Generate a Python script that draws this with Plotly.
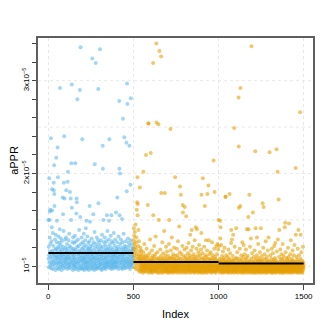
import plotly.graph_objects as go

# aPPR values in units of 1e-7 (i.e. 100 = 1.00x10^-5), index order
appr_group1 = [
150,108,121,99,112,195,104,150,131,159,116,161,101,124,109,238,98,113,127,105,142,183,160,102,117,110,136,97,114,106,122,190,182,103,209,178,165,111,100,129,107,118,96,134,112,104,217,119,109,126,
149,103,115,98,228,110,196,121,106,132,101,113,97,125,108,119,104,140,292,111,99,116,123,105,130,102,114,109,96,127,112,100,118,107,174,121,156,103,113,138,98,190,110,240,105,173,117,101,129,108,
106,120,99,112,131,182,103,115,108,124,97,110,119,191,104,202,113,101,128,107,116,99,135,109,102,122,111,180,98,114,105,173,120,103,150,211,108,296,163,117,100,126,106,113,96,131,110,104,119,101,
112,98,125,107,116,102,133,109,211,100,118,105,127,97,157,113,173,169,104,121,280,108,99,115,129,103,111,96,122,106,114,139,101,117,108,290,98,153,112,336,105,124,100,115,109,131,97,119,106,237,
111,103,126,98,114,107,120,101,135,109,96,117,104,123,110,99,128,106,113,102,141,108,97,149,115,104,121,100,112,132,105,118,98,110,125,103,114,96,119,107,101,127,165,109,148,116,99,122,106,113,
104,119,97,111,130,102,115,108,324,100,123,106,113,98,156,110,126,103,117,96,109,137,210,105,120,101,114,99,319,108,124,103,112,97,131,106,116,100,121,109,98,113,128,291,168,104,118,107,101,125,
110,99,116,334,105,122,102,113,97,128,108,119,103,111,96,134,107,115,100,230,205,121,104,150,112,98,126,109,101,117,106,131,99,114,103,123,108,97,119,110,102,127,105,115,155,100,112,138,104,118,
107,99,121,110,103,129,149,114,237,101,117,106,124,98,112,105,133,109,100,120,155,103,115,97,127,108,111,102,118,106,99,125,113,104,136,110,101,116,107,98,122,112,103,129,105,114,100,158,109,119,
104,117,99,111,126,174,106,115,101,121,108,97,132,110,103,118,278,205,155,113,105,200,124,100,112,107,129,98,116,104,120,109,151,102,114,126,97,111,259,106,118,101,135,108,113,99,239,122,105,116,
103,119,110,98,127,106,114,101,233,121,181,108,297,104,275,116,99,130,111,103,118,107,125,100,113,105,230,122,109,97,115,102,188,128,281,106,117,101,111,104,124,99,113,108,120,103,116,110,105,119,
]

appr_group2 = [
128,119,141,106,133,112,124,99,137,115,121,103,145,109,126,97,118,131,105,161,113,169,101,196,155,167,108,122,96,139,111,104,127,99,116,107,94,185,110,102,120,98,106,113,95,103,117,100,108,96,
104,97,111,101,93,106,99,115,202,102,95,108,100,124,97,104,110,94,101,107,98,112,103,220,96,105,99,119,102,94,109,100,106,97,166,103,111,254,254,98,105,93,101,114,96,107,100,129,95,103,
98,222,106,94,101,109,97,104,117,99,93,106,102,111,96,319,155,100,107,95,103,122,98,110,94,101,105,97,113,100,132,96,104,99,340,255,108,94,102,97,115,103,93,106,100,98,253,109,150,101,
95,104,332,99,107,93,102,118,97,105,100,111,326,179,96,103,94,108,101,126,98,106,93,102,114,97,104,100,109,95,138,103,99,106,179,94,101,112,97,105,99,121,95,103,108,96,100,116,93,104,
98,107,94,101,111,96,103,99,124,150,95,106,100,93,109,97,104,248,101,117,95,102,108,98,94,131,103,99,110,96,105,100,93,113,98,106,101,95,120,103,97,108,94,102,196,99,111,96,104,100,
95,107,101,98,119,93,104,100,112,96,103,127,97,106,94,101,109,99,143,95,104,100,115,186,97,102,93,108,177,98,105,101,96,113,94,103,99,122,106,166,158,97,101,95,110,100,93,104,98,118,
103,164,96,107,100,94,111,99,105,154,97,102,120,93,108,101,96,104,99,114,95,106,100,125,97,103,94,109,101,98,112,96,104,134,99,93,107,102,117,97,105,100,139,95,110,98,103,121,94,101,
106,97,100,113,95,104,99,108,93,128,102,96,110,100,105,94,142,98,107,101,119,96,140,103,99,95,111,100,106,93,102,115,97,104,100,123,95,108,98,103,94,112,101,96,105,99,118,93,136,177,
102,97,108,100,94,114,99,195,104,96,101,109,93,106,98,121,103,95,100,165,107,97,112,94,102,128,99,105,96,110,101,93,117,98,178,104,100,95,108,102,187,97,128,106,94,113,99,103,96,101,
107,98,102,115,95,104,100,93,109,97,103,126,99,106,94,101,112,96,104,100,214,95,108,98,119,102,180,94,105,99,110,96,101,93,107,100,122,97,104,95,113,99,102,124,96,106,100,118,98,150,
103,97,122,100,94,108,101,96,105,149,130,142,99,93,104,123,98,107,95,101,111,97,103,94,100,116,96,106,99,93,102,109,95,104,120,98,101,94,107,100,175,175,96,103,112,99,94,105,101,97,
104,95,100,110,93,102,98,118,96,106,101,94,108,99,178,103,95,114,100,97,105,93,101,125,139,96,104,99,129,94,107,100,97,111,95,134,102,98,106,93,100,249,96,104,121,99,94,108,101,97,
103,95,100,141,98,109,94,102,97,115,101,93,106,99,104,96,100,282,229,163,95,108,98,103,119,94,101,165,292,97,105,100,93,112,99,96,107,102,94,126,100,97,104,95,110,99,93,123,101,98,
104,96,100,113,94,102,98,107,95,101,118,97,103,93,109,99,140,96,105,100,94,111,98,102,153,95,140,104,97,100,177,93,106,99,121,96,103,94,101,130,98,108,95,337,100,97,114,93,105,99,
102,158,96,104,94,100,110,97,103,93,99,117,95,106,101,224,98,141,94,102,108,96,100,93,112,131,97,104,99,95,106,101,124,94,98,103,96,109,100,93,105,97,115,101,95,102,99,107,141,94,
100,96,104,111,93,101,98,106,168,95,103,99,120,94,164,102,97,108,100,95,113,99,93,104,101,96,127,103,98,94,107,100,96,110,102,93,99,105,97,117,101,94,103,131,98,95,106,100,97,223,
102,95,99,112,94,104,97,101,93,108,100,96,119,103,98,94,105,100,97,114,93,102,99,107,95,101,122,96,104,98,94,109,125,100,97,103,93,106,99,95,226,101,116,97,104,94,202,100,129,96,
103,98,172,94,101,110,139,96,100,93,105,99,118,95,102,97,107,94,100,113,96,103,99,93,108,101,124,95,98,104,94,100,111,97,102,93,106,99,142,96,101,147,94,115,100,97,104,95,109,99,
102,96,100,93,107,98,104,120,95,101,97,110,94,146,103,99,96,106,100,93,113,98,102,95,128,101,97,105,94,100,108,96,103,99,117,93,101,97,106,95,100,112,98,104,94,123,99,96,102,100,
97,105,206,134,94,101,98,110,95,103,100,93,107,99,119,96,102,94,139,100,97,105,112,95,101,98,93,104,266,100,96,108,134,99,94,102,115,97,101,95,106,100,93,103,98,121,96,104,99,101,
]

VALUE_UNIT = 1e-7
group_start = [1, 501, 1001]
group_end = [500, 1000, 1500]
group_level = [1.143e-5, 1.046e-5, 1.030e-5]

x_tickvals = [0, 500, 1000, 1500]
y_minor_ticks = [1.0e-5, 1.2e-5, 1.4e-5, 1.6e-5, 1.8e-5, 2.0e-5, 2.2e-5, 2.4e-5,
                 2.6e-5, 2.8e-5, 3.0e-5, 3.2e-5, 3.4e-5]
y_label_vals = [1e-5, 2e-5, 3e-5]
y_label_text = ["10<sup>\u22125</sup>", "2x10<sup>\u22125</sup>", "3x10<sup>\u22125</sup>"]
y_grid_vals = [1.0e-5, 1.5e-5, 2.0e-5, 2.5e-5, 3.0e-5]

n1 = len(appr_group1)
x1 = list(range(1, n1 + 1))
x2 = list(range(n1 + 1, n1 + len(appr_group2) + 1))
y1 = [v * VALUE_UNIT for v in appr_group1]
y2 = [v * VALUE_UNIT for v in appr_group2]

font_family = "Liberation Sans, Arial, Helvetica, sans-serif"
grid_color = "#e8e8e8"
tick_color = "#444444"

fig = go.Figure()
fig.add_trace(go.Scatter(x=x1, y=y1, mode="markers",
                         marker=dict(size=4, color="rgba(86,180,233,0.55)", line=dict(width=0)),
                         showlegend=False, hoverinfo="skip"))
fig.add_trace(go.Scatter(x=x2, y=y2, mode="markers",
                         marker=dict(size=4, color="rgba(230,159,0,0.58)", line=dict(width=0)),
                         showlegend=False, hoverinfo="skip"))
for s, e, lv in zip(group_start, group_end, group_level):
    fig.add_trace(go.Scatter(x=[s, e], y=[lv, lv], mode="lines",
                             line=dict(color="black", width=2),
                             showlegend=False, hoverinfo="skip"))

for g in y_grid_vals:
    fig.add_shape(type="line", xref="paper", x0=0, x1=1, yref="y", y0=g, y1=g,
                  line=dict(color=grid_color, width=1, dash="dot"), layer="below")

# the page body adds ~8px around the figure, so the figure itself is 324px
fig.update_layout(
    width=324, height=324,
    margin=dict(l=30, r=19, t=30, b=49),
    paper_bgcolor="white", plot_bgcolor="white",
    font=dict(family=font_family, color="black"),
    xaxis=dict(range=[-60, 1555], tickvals=x_tickvals, ticks="outside", ticklen=5,
               tickwidth=1, tickcolor=tick_color, tickfont=dict(size=8),
               showgrid=True, gridcolor=grid_color, griddash="dot", gridwidth=1,
               zeroline=False, showline=True, linecolor="#5f5f5f", linewidth=1.5, mirror=True,
               automargin=False,
               title=dict(text="Index", font=dict(size=11), standoff=10)),
    yaxis=dict(range=[0.82e-5, 3.46e-5], tickvals=y_label_vals, ticktext=y_label_text,
               ticks="outside", ticklen=4, tickwidth=1, tickcolor=tick_color,
               minor=dict(tickvals=y_minor_ticks, ticks="outside", ticklen=4,
                          tickwidth=1, tickcolor=tick_color, showgrid=False),
               tickangle=-90, tickfont=dict(size=8),
               showgrid=False, zeroline=False, showline=True, linecolor="#5f5f5f",
               linewidth=1.5, mirror=True, automargin=False,
               title=dict(text="aPPR", font=dict(size=11), standoff=6)),
)

fig.write_html("out.html")
